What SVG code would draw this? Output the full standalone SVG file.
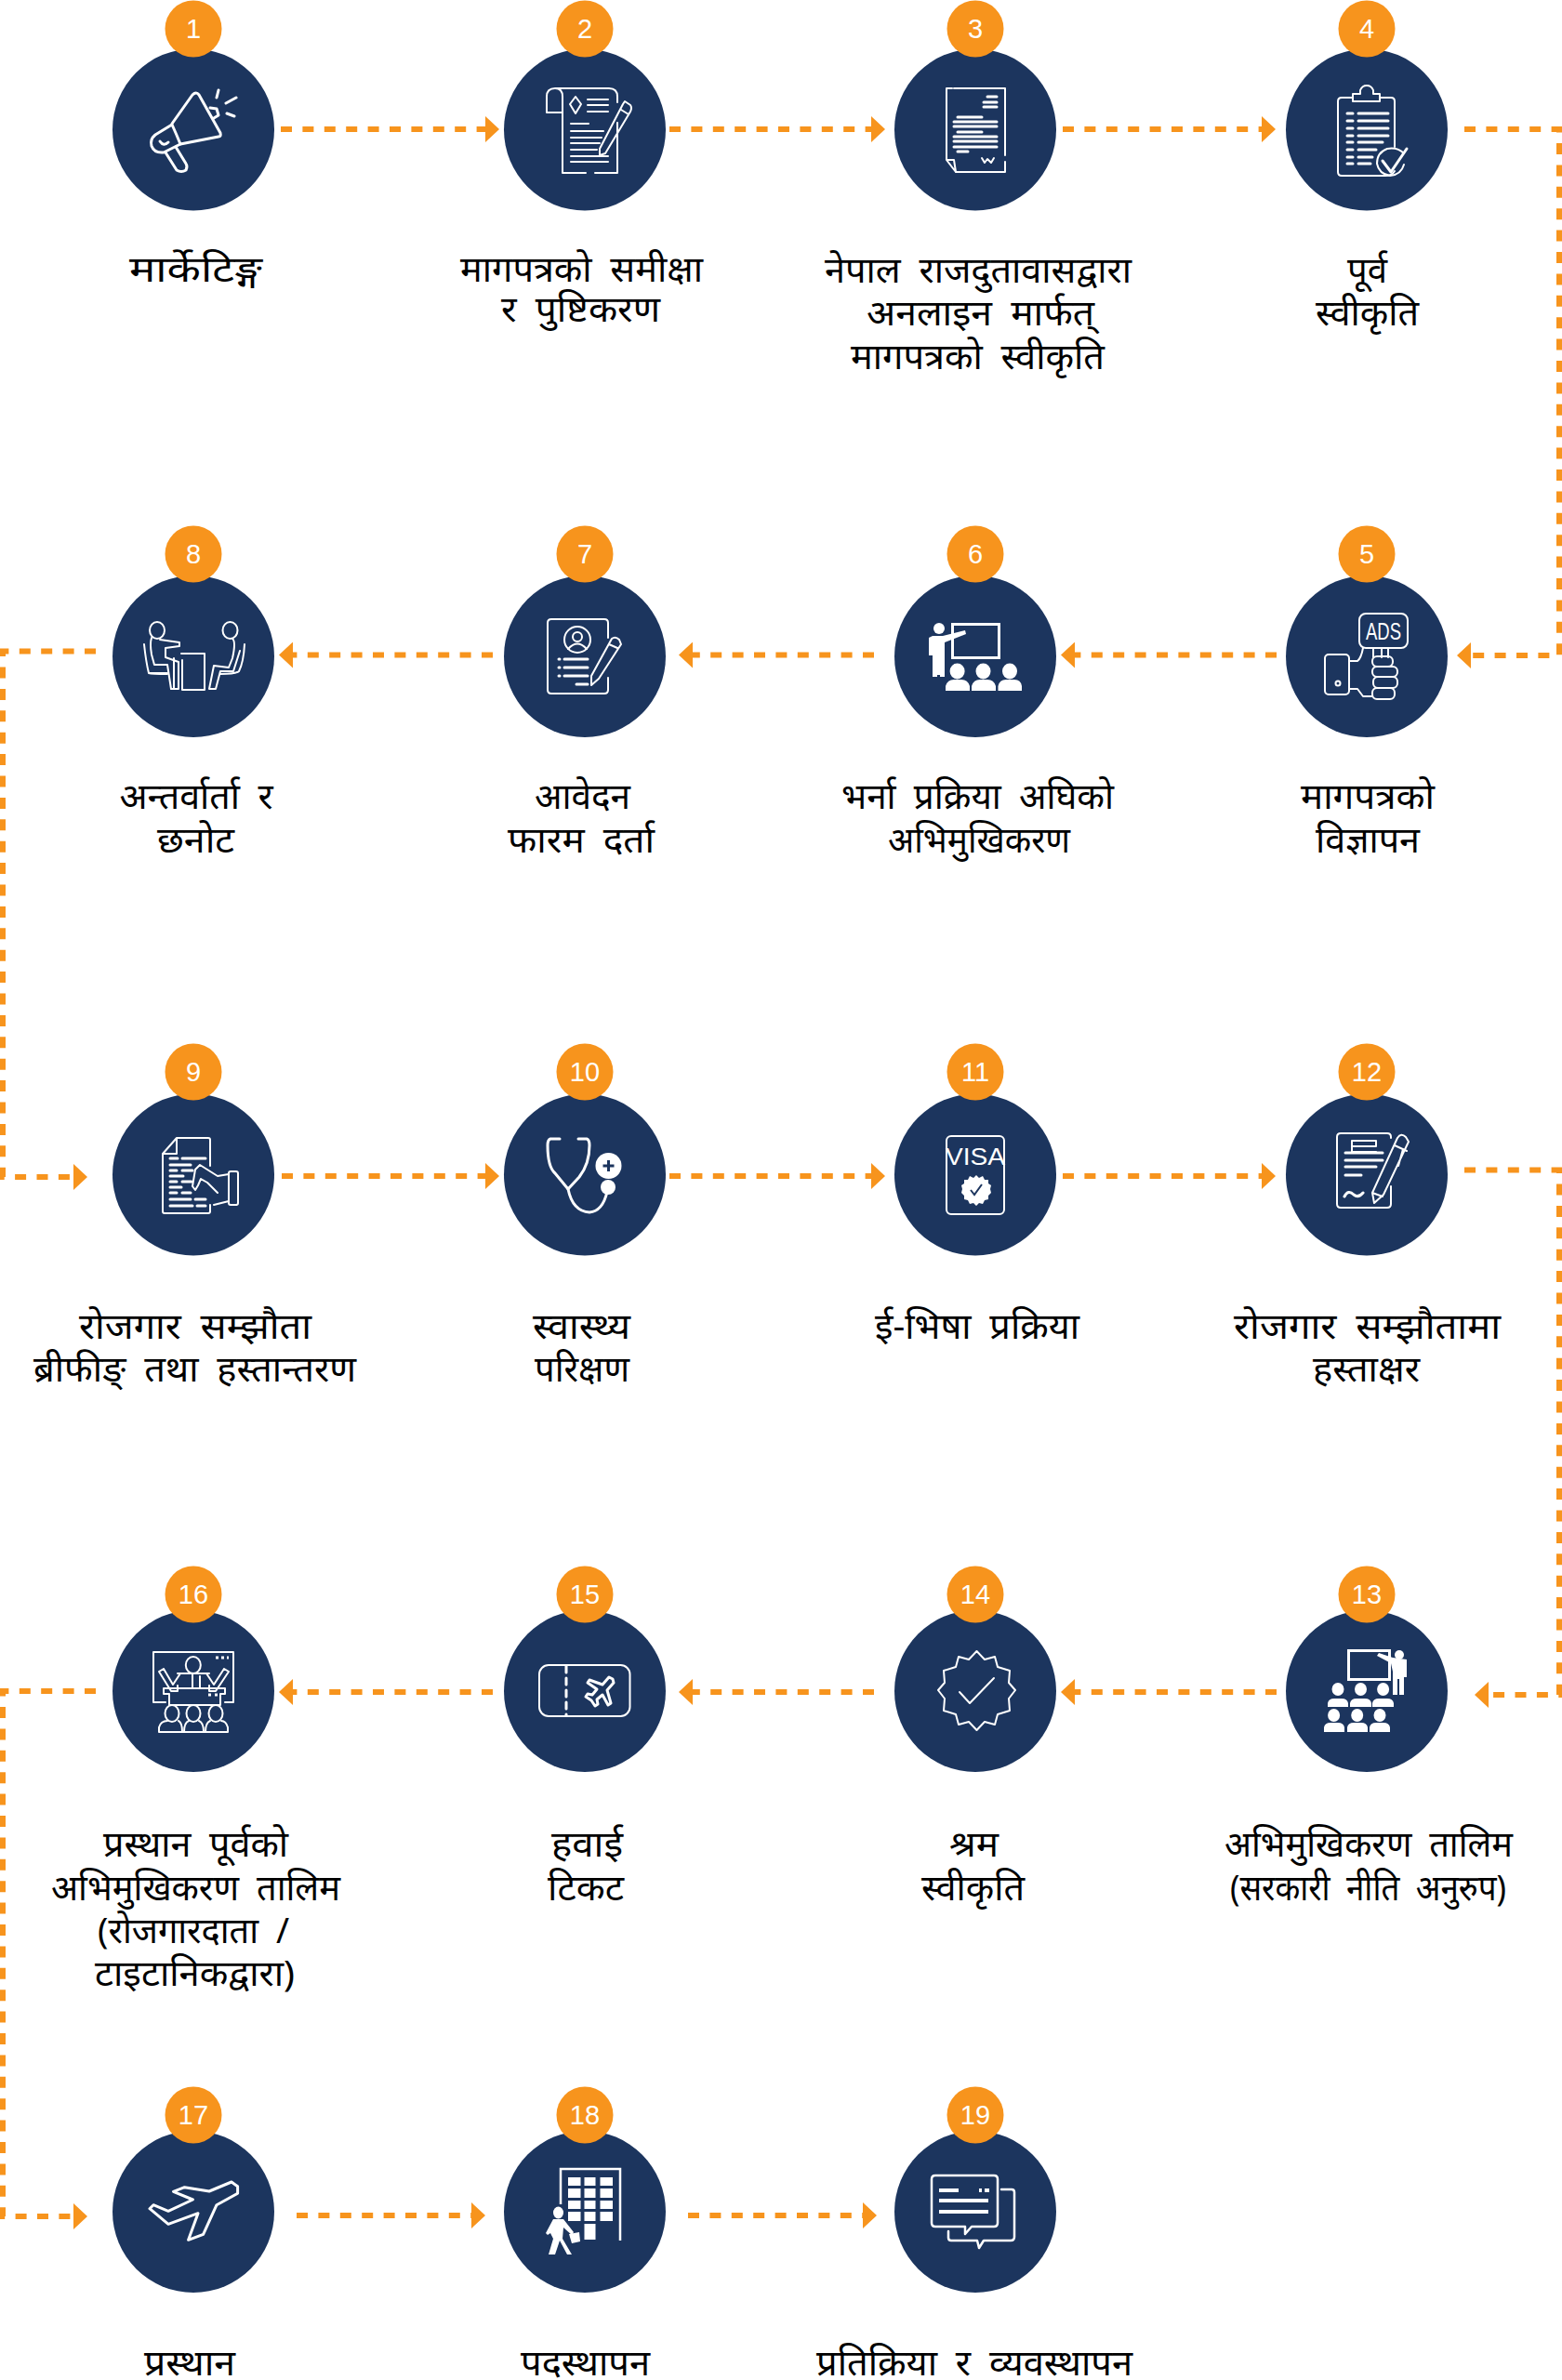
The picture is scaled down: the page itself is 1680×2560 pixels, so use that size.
<svg xmlns="http://www.w3.org/2000/svg" width="1680" height="2560" viewBox="0 0 1680 2560">
<style>
.c{fill:#1c355e}.b{fill:#f7941d}
.num{font:29px "Liberation Sans",Arial,sans-serif;fill:#fff;text-anchor:middle}
.lbl{font-family:"Noto Sans","Liberation Serif",sans-serif;font-size:38px;fill:#000;word-spacing:9px}
.i{fill:none;stroke:#fff;stroke-width:3;stroke-linecap:round;stroke-linejoin:round}
.t{stroke-width:2}
.f{fill:#fff;stroke:none}
.e{fill:#1c355e;stroke:none}
.d{fill:none;stroke:#f7941d;stroke-width:6;stroke-dasharray:12 11.4}
.it{font-family:"Liberation Sans",Arial,sans-serif;fill:#fff;text-anchor:middle}
</style>
<defs>
<marker id="ah" markerUnits="userSpaceOnUse" markerWidth="15" markerHeight="28" refX="0" refY="14" orient="auto"><path d="M0 0L15 14L0 28z" fill="#f7941d"/></marker>
</defs>
<rect width="1680" height="2560" fill="#fff"/>
<g id="connectors">
<path class="d" marker-end="url(#ah)" d="M302 139H522"/>
<path class="d" marker-end="url(#ah)" d="M720 139H937"/>
<path class="d" marker-end="url(#ah)" d="M1143 139H1357"/>
<path class="d" marker-end="url(#ah)" d="M1575 139H1677V705H1582"/>
<path class="d" marker-end="url(#ah)" d="M1373 704.500H1156"/>
<path class="d" marker-end="url(#ah)" d="M940 704.500H745"/>
<path class="d" marker-end="url(#ah)" d="M530 704.500H315"/>
<path class="d" marker-end="url(#ah)" d="M103 700.500H3V1266H79"/>
<path class="d" marker-end="url(#ah)" d="M303 1265H522"/>
<path class="d" marker-end="url(#ah)" d="M720 1265H937"/>
<path class="d" marker-end="url(#ah)" d="M1143 1265H1357"/>
<path class="d" marker-end="url(#ah)" d="M1575 1258.500H1677V1823H1601"/>
<path class="d" marker-end="url(#ah)" d="M1373 1820H1156"/>
<path class="d" marker-end="url(#ah)" d="M940 1820H745"/>
<path class="d" marker-end="url(#ah)" d="M530 1820H315"/>
<path class="d" marker-end="url(#ah)" d="M103 1819H3V2384H79"/>
<path class="d" marker-end="url(#ah)" d="M319 2383H507"/>
<path class="d" marker-end="url(#ah)" d="M740 2383H928"/>
</g>
<g id="node-1"><circle class="c" cx="208" cy="139.500" r="87"/><circle class="b" cx="208" cy="31" r="30.5"/><text class="num" x="208" y="41">1</text>
<g class="i"><path d="M185 133L207 102Q211 98 214 102L237 143Q238 147 235 147L194 155"/><path d="M185 134L167 145Q161 150 163 157Q166 165 176 164L194 155Q190 145 185 134z"/><path d="M178 164L190 183Q195 186 200 183Q202 179 200 176L189 158"/><path d="M172 152Q176 158 181 153"/><path d="M226 116L233 117L235 124L230 127"/><path d="M235 97L233 105M254 105L243 111M252 125L244 122"/></g>
<text class="lbl" x="139" y="303" textLength="143" lengthAdjust="spacingAndGlyphs">मार्केटिङ्ग</text></g>
<g id="node-2"><circle class="c" cx="629" cy="139.500" r="87"/><circle class="b" cx="629" cy="31" r="30.5"/><text class="num" x="629" y="41">2</text>
<g class="i t"><path d="M597 95H655Q664 95 664 104V110M664 132V186H640M630 186H605V104Q605 95 597 95Q588 95 588 104V121H605M588 108V112"/><path d="M619 104L625 112L619 122L613 112z"/><path d="M632 107H654M632 113H654M632 120H654M614 133H633M614 141H649M614 148H647M614 154H645M614 161H642M614 168H654M614 174H654"/><path d="M672 109L678 113Q680 116 678 120L651 165L645 167L645 160L670 112zM668 118L676 123"/></g>
<text class="lbl" x="495" y="303" textLength="261" lengthAdjust="spacingAndGlyphs">मागपत्रको समीक्षा</text><text class="lbl" x="539" y="346" textLength="171" lengthAdjust="spacingAndGlyphs">र पुष्टिकरण</text></g>
<g id="node-3"><circle class="c" cx="1049" cy="139.500" r="87"/><circle class="b" cx="1049" cy="31" r="30.5"/><text class="num" x="1049" y="41">3</text>
<g class="i t"><path d="M1026 95H1081V167M1081 174V185H1028L1018 172V95H1024M1018 172H1026L1028 185"/><path stroke-width="3" d="M1062 104H1072M1058 110H1072M1058 115H1072M1030 126H1056M1026 131H1072M1026 136H1072M1030 142H1056M1026 147H1072M1026 152H1072M1026 158H1072M1030 163H1041"/><path d="M1056 170L1059 175L1062 171L1066 175L1069 170"/></g>
<text class="lbl" x="887" y="304" textLength="330" lengthAdjust="spacingAndGlyphs">नेपाल राजदुतावासद्वारा</text><text class="lbl" x="932" y="350" textLength="245" lengthAdjust="spacingAndGlyphs">अनलाइन मार्फत्</text><text class="lbl" x="915" y="397" textLength="273" lengthAdjust="spacingAndGlyphs">मागपत्रको स्वीकृति</text></g>
<g id="node-4"><circle class="c" cx="1470" cy="139.500" r="87"/><circle class="b" cx="1470" cy="31" r="30.5"/><text class="num" x="1470" y="41">4</text>
<g class="i t"><path d="M1455 105H1443Q1439 105 1439 109V185Q1439 189 1443 189H1490Q1497 189 1500 184M1484 105H1496Q1500 105 1500 109V158"/><path d="M1455 109V101H1463V97Q1465 92 1470 92Q1475 92 1477 97V101H1484V109z"/><path stroke-width="3" d="M1449 122H1455M1461 122H1493M1449 130H1455M1461 130H1493M1449 138H1455M1461 138H1493M1449 146H1455M1461 146H1493M1449 153H1455M1461 153H1487M1449 161H1455M1461 161H1480M1449 169H1455M1461 169H1476M1449 176H1455M1461 176H1474"/><path d="M1510 165Q1503 158 1492 160Q1481 164 1481 176Q1483 187 1495 189Q1507 188 1510 177"/><path stroke-width="3" d="M1487 173L1496 185L1513 160"/></g>
<text class="lbl" x="1449" y="304" textLength="43" lengthAdjust="spacingAndGlyphs">पूर्व</text><text class="lbl" x="1415" y="350" textLength="111" lengthAdjust="spacingAndGlyphs">स्वीकृति</text></g>
<g id="node-5"><circle class="c" cx="1470" cy="706" r="87"/><circle class="b" cx="1470" cy="596" r="30.5"/><text class="num" x="1470" y="606">5</text>
<g class="i t"><rect x="1462" y="660" width="52" height="37" rx="7"/><rect x="1425" y="704" width="26" height="43" rx="4"/><circle cx="1439" cy="735" r="2.5"/><path d="M1477 697V707M1486 697V707M1493 697V707M1451 711H1460Q1464 708 1466 697M1451 741H1460L1466 749H1476"/><rect x="1476" y="706" width="22" height="11" rx="5"/><rect x="1476" y="717" width="27" height="11" rx="5"/><rect x="1477" y="728" width="26" height="12" rx="5"/><rect x="1476" y="740" width="24" height="12" rx="5"/></g>
<text class="it" x="1488" y="688" font-size="25" textLength="38" lengthAdjust="spacingAndGlyphs">ADS</text>
<text class="lbl" x="1399" y="870" textLength="144" lengthAdjust="spacingAndGlyphs">मागपत्रको</text><text class="lbl" x="1415" y="917" textLength="112" lengthAdjust="spacingAndGlyphs">विज्ञापन</text></g>
<g id="node-6"><circle class="c" cx="1049" cy="706" r="87"/><circle class="b" cx="1049" cy="596" r="30.5"/><text class="num" x="1049" y="606">6</text>
<rect x="1024.500" y="671.500" width="50" height="36" fill="none" stroke="#fff" stroke-width="3"/>
<g class="f"><circle cx="1010" cy="676" r="6"/><path d="M999 686L1003 684H1014L1038 678L1039 682L1016 691V726H1003V705H999z" fill="#fff"/><path d="M1003 693H1016V728H1011V706H1008V728H1003z" fill="#fff"/></g>
<g fill="#fff"><ellipse cx="1029.600" cy="722" rx="8" ry="8.500"/><ellipse cx="1057.500" cy="722" rx="8" ry="8.500"/><ellipse cx="1086" cy="722" rx="8" ry="8.500"/><path d="M1017 743V738Q1019 731 1026 731H1034Q1041 731 1043 738V743zM1045 743V738Q1047 731 1054 731H1062Q1069 731 1071 738V743zM1073.500 743V738Q1075 731 1082 731H1091Q1098 731 1099 738V743z"/></g>
<text class="lbl" x="905" y="870" textLength="293" lengthAdjust="spacingAndGlyphs">भर्ना प्रक्रिया अघिको</text><text class="lbl" x="955" y="917" textLength="196" lengthAdjust="spacingAndGlyphs">अभिमुखिकरण</text></g>
<g id="node-7"><circle class="c" cx="629" cy="706" r="87"/><circle class="b" cx="629" cy="596" r="30.5"/><text class="num" x="629" y="606">7</text>
<g class="i t"><path d="M654 686V670Q654 666 650 666H593Q589 666 589 670V742Q589 746 593 746H650Q654 746 654 742V729"/><circle cx="621" cy="688" r="14"/><circle cx="621" cy="685" r="5"/><path d="M611 698Q621 687 631 698"/><path stroke-width="3" d="M601 709H602M607 709H632M601 718H602M607 718H632M601 727H602M607 727H632M620 736H632"/><path d="M658 687Q662 684 666 688L668 693L644 730L636 737L636 727zM655 693L664 697"/></g>
<text class="lbl" x="575" y="870" textLength="103" lengthAdjust="spacingAndGlyphs">आवेदन</text><text class="lbl" x="546" y="917" textLength="158" lengthAdjust="spacingAndGlyphs">फारम दर्ता</text></g>
<g id="node-8"><circle class="c" cx="208" cy="706" r="87"/><circle class="b" cx="208" cy="596" r="30.5"/><text class="num" x="208" y="606">8</text>
<g class="i t"><ellipse cx="169" cy="678" rx="8" ry="9"/><ellipse cx="247.500" cy="678" rx="8" ry="9"/><path d="M163 686Q161 692 163 704L166 715H180L184 741H192V712L178 707V697L193 695V691L172 688"/><path d="M155 693Q157 712 160 724Q163 725 180 725M160 724H180"/><path d="M195 703H220V742H196V710M187 708V741"/><path d="M250 687Q254 690 250 708L246 718L230 716L225 741H232L237 722L251 722L258 700"/><path d="M263 693Q262 712 257 722Q254 725 237 725"/></g>
<text class="lbl" x="128.500" y="870" textLength="165" lengthAdjust="spacingAndGlyphs">अन्तर्वार्ता र</text><text class="lbl" x="169" y="917" textLength="83" lengthAdjust="spacingAndGlyphs">छनोट</text></g>
<g id="node-9"><circle class="c" cx="208" cy="1263.500" r="87"/><circle class="b" cx="208" cy="1153" r="30.5"/><text class="num" x="208" y="1163">9</text>
<g class="i t"><path d="M226 1254V1226Q226 1224 224 1224H190L175 1241V1303Q175 1305 177 1305H224Q226 1305 226 1303V1296M190 1224V1241H175"/><path stroke-width="3" d="M183 1246H191M196 1246H221M183 1253H205M183 1259H190M196 1259H207M183 1265H197M183 1271H190M196 1271H206M183 1277H195M183 1283H190M196 1283H205M183 1290H205M210 1290H221M183 1297H207M212 1297H221"/><rect x="246" y="1260" width="10" height="36" rx="2"/><path d="M246 1263L234 1265L215 1253L210 1258L207 1276L210 1280L213 1275L216 1268L223 1272L234 1283M246 1292L230 1296"/></g>
<text class="lbl" x="85" y="1440" textLength="250" lengthAdjust="spacingAndGlyphs">रोजगार सम्झौता</text><text class="lbl" x="36" y="1486" textLength="347" lengthAdjust="spacingAndGlyphs">ब्रीफीङ् तथा हस्तान्तरण</text></g>
<g id="node-10"><circle class="c" cx="629" cy="1263.500" r="87"/><circle class="b" cx="629" cy="1153" r="30.5"/><text class="num" x="629" y="1163">10</text>
<g class="i"><path d="M602 1225H592Q589 1226 589 1232Q589 1255 597 1262L611 1279L623 1266Q634 1252 634 1232Q634 1226 631 1225H622"/><path d="M611 1279Q616 1303 634 1304Q648 1303 653 1282"/></g>
<circle cx="654.500" cy="1254" r="14" fill="#fff"/><path d="M654.500 1248V1260M648.500 1254H660.500" stroke="#1c355e" stroke-width="3"/><ellipse cx="654" cy="1277" rx="8" ry="8" fill="#fff"/>
<text class="lbl" x="573" y="1440" textLength="105" lengthAdjust="spacingAndGlyphs">स्वास्थ्य</text><text class="lbl" x="575" y="1486" textLength="102" lengthAdjust="spacingAndGlyphs">परिक्षण</text></g>
<g id="node-11"><circle class="c" cx="1049" cy="1263.500" r="87"/><circle class="b" cx="1049" cy="1153" r="30.5"/><text class="num" x="1049" y="1163">11</text>
<g class="i t"><rect x="1018" y="1222" width="62" height="84" rx="5"/></g>
<text class="it" x="1049" y="1253" font-size="25" textLength="64" lengthAdjust="spacingAndGlyphs">VISA</text>
<path fill="#fff" d="M1050 1264L1053 1267L1057 1265L1059 1269L1063 1269L1063 1273L1066 1275L1065 1279L1066 1283L1063 1286L1063 1290L1059 1291L1057 1295L1053 1294L1050 1297L1047 1294L1043 1295L1041 1291L1037 1290L1037 1286L1034 1283L1035 1279L1034 1275L1037 1273L1037 1269L1041 1269L1043 1265L1047 1267z"/><path d="M1044 1280L1048 1285L1056 1274" fill="none" stroke="#1c355e" stroke-width="2"/>
<text class="lbl" x="941" y="1440" textLength="220" lengthAdjust="spacingAndGlyphs">ई-भिषा प्रक्रिया</text></g>
<g id="node-12"><circle class="c" cx="1470" cy="1263.500" r="87"/><circle class="b" cx="1470" cy="1153" r="30.5"/><text class="num" x="1470" y="1163">12</text>
<g class="i t"><path d="M1496 1224V1223Q1496 1219 1492 1219H1442Q1438 1219 1438 1223V1295Q1438 1299 1442 1299H1492Q1496 1299 1496 1295V1276"/><path d="M1454 1227H1480V1233H1454V1239H1480M1454 1227V1239"/><path stroke-width="3" d="M1447 1240H1487M1447 1248H1487M1447 1255H1480M1447 1264H1464M1446 1287Q1450 1279 1456 1285Q1461 1289 1466 1283"/><path d="M1503 1224Q1507 1218 1512 1223L1515 1228L1488 1285L1478 1294L1476 1283zM1500 1232L1513 1238M1509 1236L1504 1254M1476 1283L1487 1287"/></g>
<text class="lbl" x="1327" y="1440" textLength="287" lengthAdjust="spacingAndGlyphs">रोजगार सम्झौतामा</text><text class="lbl" x="1412" y="1486" textLength="115" lengthAdjust="spacingAndGlyphs">हस्ताक्षर</text></g>
<g id="node-13"><circle class="c" cx="1470" cy="1819" r="87"/><circle class="b" cx="1470" cy="1715" r="30.5"/><text class="num" x="1470" y="1725">13</text>
<rect x="1450.500" y="1775.500" width="44" height="31" fill="none" stroke="#fff" stroke-width="3"/>
<g fill="#fff"><circle cx="1505" cy="1780" r="5"/><path d="M1481 1781L1483 1778L1498 1783L1513 1785V1804H1510V1823H1505V1806H1503V1823H1498V1798L1496 1789z"/>
<ellipse cx="1439" cy="1817" rx="6.500" ry="7"/><ellipse cx="1463.500" cy="1817" rx="6.500" ry="7"/><ellipse cx="1487.600" cy="1817" rx="6.500" ry="7"/><ellipse cx="1434.600" cy="1845" rx="6.500" ry="7"/><ellipse cx="1459.700" cy="1845" rx="6.500" ry="7"/><ellipse cx="1484" cy="1845" rx="6.500" ry="7"/>
<path d="M1428 1836V1832Q1429 1827 1435 1827H1443Q1449 1827 1450 1832V1836zM1452 1836V1832Q1453 1827 1459 1827H1468Q1474 1827 1475 1832V1836zM1476 1836V1832Q1477 1827 1483 1827H1492Q1498 1827 1499 1832V1836zM1424 1863V1858Q1425 1853 1431 1853H1439Q1445 1853 1446 1858V1863zM1449 1863V1858Q1450 1853 1456 1853H1464Q1470 1853 1471 1858V1863zM1473 1863V1858Q1474 1853 1480 1853H1488Q1494 1853 1495 1858V1863z"/></g>
<text class="lbl" x="1317" y="1997" textLength="310" lengthAdjust="spacingAndGlyphs">अभिमुखिकरण तालिम</text><text class="lbl" x="1323" y="2044" textLength="297" lengthAdjust="spacingAndGlyphs">(सरकारी नीति अनुरुप)</text></g>
<g id="node-14"><circle class="c" cx="1049" cy="1819" r="87"/><circle class="b" cx="1049" cy="1715" r="30.5"/><text class="num" x="1049" y="1725">14</text>
<g class="i t"><path d="M1050.500 1776L1059 1785L1070 1782L1073 1793L1086 1797L1085 1810L1092 1818L1085 1827L1086 1840L1073 1844L1070 1855L1059 1852L1050.500 1861L1042 1852L1031 1855L1028 1844L1015 1840L1016 1827L1009 1818L1016 1810L1015 1797L1028 1793L1031 1782L1042 1785z"/><path d="M1032 1820L1043 1832L1069 1805"/></g>
<text class="lbl" x="1021" y="1997" textLength="53" lengthAdjust="spacingAndGlyphs">श्रम</text><text class="lbl" x="991" y="2044" textLength="111" lengthAdjust="spacingAndGlyphs">स्वीकृति</text></g>
<g id="node-15"><circle class="c" cx="629" cy="1819" r="87"/><circle class="b" cx="629" cy="1715" r="30.5"/><text class="num" x="629" y="1725">15</text>
<g class="i t"><rect x="580" y="1791" width="97.500" height="55" rx="10"/><path stroke-width="3" stroke-dasharray="7 6" d="M609 1792V1845"/><path stroke-width="3" d="M659 1806L655 1804L648 1812L634 1807L632 1810L642 1817L637 1823L632 1822L630 1825L636 1829L640 1835L643 1833L642 1828L648 1823L654 1834L657 1832L653 1818L660 1810z"/></g>
<text class="lbl" x="593" y="1997" textLength="77" lengthAdjust="spacingAndGlyphs">हवाई</text><text class="lbl" x="589" y="2044" textLength="82" lengthAdjust="spacingAndGlyphs">टिकट</text></g>
<g id="node-16"><circle class="c" cx="208" cy="1819" r="87"/><circle class="b" cx="208" cy="1715" r="30.5"/><text class="num" x="208" y="1725">16</text>
<g class="i t"><path d="M178 1831H165V1777H251V1831H242"/><path d="M176 1795L186 1812L194 1800H222L230 1812L241 1795M176 1795L171 1798L184 1819H191V1813M241 1795L246 1798L232 1819H225V1813M191 1800H225"/><ellipse cx="207.800" cy="1791" rx="8" ry="9"/><path d="M207 1800V1816M215 1803V1816"/><path d="M176 1816H242V1822H237V1834H182V1822H176z"/><ellipse cx="185" cy="1843" rx="7.500" ry="9"/><ellipse cx="208" cy="1843" rx="7.500" ry="9"/><ellipse cx="232" cy="1843" rx="7.500" ry="9"/><path d="M171 1863V1858Q173 1851 180 1851M196 1863Q196 1853 192 1851M198 1863Q198 1853 203 1851M219 1863Q219 1853 214 1851M221 1863Q221 1853 226 1851M245 1863V1858Q243 1851 238 1851M171 1863H245"/></g>
<path d="M232 1783H235M238 1783H241M244 1783H246M224 1823H227M231 1823H234" stroke="#fff" stroke-width="3" fill="none"/>
<text class="lbl" x="111" y="1997" textLength="199" lengthAdjust="spacingAndGlyphs">प्रस्थान पूर्वको</text><text class="lbl" x="55" y="2044" textLength="311" lengthAdjust="spacingAndGlyphs">अभिमुखिकरण तालिम</text><text class="lbl" x="105" y="2090" textLength="206" lengthAdjust="spacingAndGlyphs">(रोजगारदाता /</text><text class="lbl" x="102" y="2136" textLength="215" lengthAdjust="spacingAndGlyphs">टाइटानिकद्वारा)</text></g>
<g id="node-17"><circle class="c" cx="208" cy="2379" r="87"/><circle class="b" cx="208" cy="2275" r="30.5"/><text class="num" x="208" y="2285">17</text>
<path class="i" d="M249 2347L225 2357L198.500 2352.700L186.500 2357.300L207.400 2366L181 2378.300L165 2371.700L161 2375.700L181 2392.300L213 2380.700L202.600 2409.300L218.600 2403.300L233 2371.700L255.600 2359.300L255.600 2351.700z"/>
<text class="lbl" x="155" y="2555" textLength="98" lengthAdjust="spacingAndGlyphs">प्रस्थान</text></g>
<g id="node-18"><circle class="c" cx="629" cy="2379" r="87"/><circle class="b" cx="629" cy="2275" r="30.5"/><text class="num" x="629" y="2285">18</text>
<g fill="#fff"><path d="M603 2371V2333H667V2410" fill="none" stroke="#fff" stroke-width="2.500"/>
<rect x="611" y="2342" width="13.500" height="9"/><rect x="628.500" y="2342" width="12" height="9"/><rect x="645.500" y="2342" width="13.500" height="9"/><rect x="611" y="2354" width="13.500" height="10"/><rect x="628.500" y="2354" width="12" height="10"/><rect x="645.500" y="2354" width="13.500" height="10"/><rect x="611" y="2367" width="13.500" height="9"/><rect x="628.500" y="2367" width="12" height="9"/><rect x="645.500" y="2367" width="13.500" height="9"/><rect x="611" y="2379" width="13.500" height="10"/><rect x="628.500" y="2379" width="12" height="10"/><rect x="645.500" y="2379" width="13.500" height="10"/><rect x="628.500" y="2392" width="12" height="17"/>
<ellipse cx="600.500" cy="2380" rx="5.500" ry="6.500"/><path d="M595 2387H606L617 2401L615 2404L606 2396L605 2408L615 2425H610L602 2410L597 2425H590L595 2408L592 2402L589 2404L587 2402z"/><path d="M612 2403L623 2401L624 2411L615 2413z"/></g>
<text class="lbl" x="560" y="2555" textLength="139" lengthAdjust="spacingAndGlyphs">पदस्थापन</text></g>
<g id="node-19"><circle class="c" cx="1049" cy="2379" r="87"/><circle class="b" cx="1049" cy="2275" r="30.5"/><text class="num" x="1049" y="2285">19</text>
<g class="i t"><path stroke-width="2.500" d="M1006 2340H1069Q1073 2340 1073 2344V2391Q1073 2395 1069 2395H1045L1038 2403V2395H1006Q1002 2395 1002 2391V2344Q1002 2340 1006 2340z"/><path stroke-width="2.500" d="M1077 2355H1088Q1091 2355 1091 2358V2406Q1091 2410 1087 2410H1058L1053 2418L1051 2410H1023Q1020 2410 1020 2407V2400"/></g>
<path d="M1010 2356H1031M1053 2356H1056M1059 2356H1064M1010 2367H1063M1010 2379H1063" stroke="#fff" stroke-width="4" fill="none"/>
<text class="lbl" x="878" y="2555" textLength="340" lengthAdjust="spacingAndGlyphs">प्रतिक्रिया र व्यवस्थापन</text></g>
</svg>
